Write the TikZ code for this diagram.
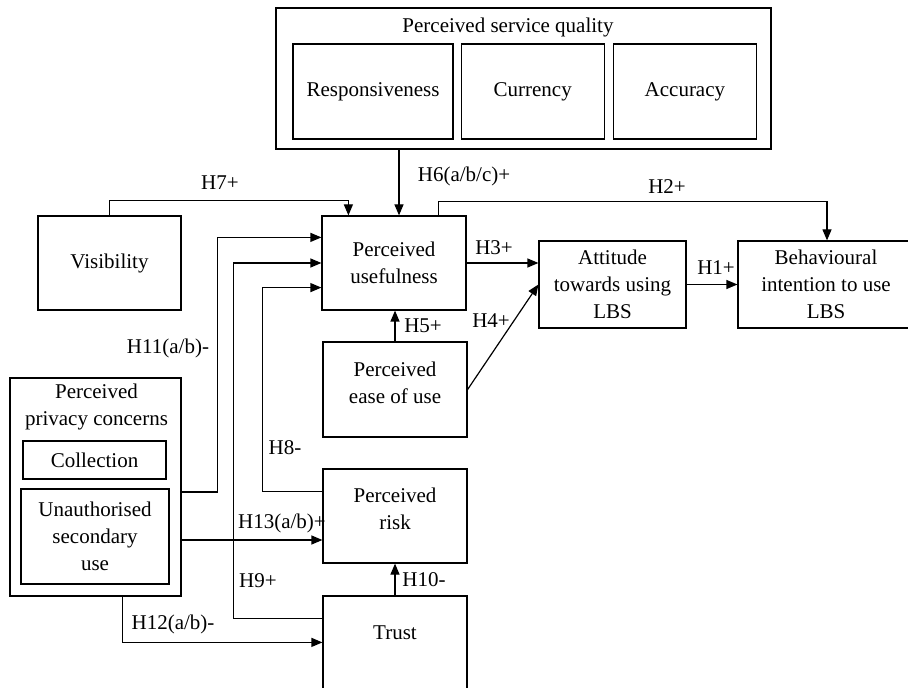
\documentclass[tikz,border=0pt]{standalone}
\usepackage{fontspec}
\setmainfont{Liberation Serif}
\usetikzlibrary{positioning,arrows.meta}

\begin{document}
\begin{tikzpicture}[
    x=0.5pt, y=-0.5pt,
    font=\fontsize{10.5}{13.5}\selectfont,
    construct/.style={rectangle, draw, line width=0.6pt, align=center, inner sep=1pt},
    group/.style={rectangle, draw, line width=0.6pt, inner sep=0pt},
    hyp/.style={inner sep=0pt},
    arrow/.style={-{Triangle[length=5.5pt, width=4.5pt]}, line width=0.6pt}
]
    \useasboundingbox (0,0) rectangle (908,688);

    % Perceived service quality
    \node[group, minimum width=247.5pt, minimum height=70.5pt] (psq) at (523.5,78.5) {};
    \node (psqtitle) at (508,27) {Perceived service quality};
    \node[construct, minimum width=80pt, minimum height=47.5pt] (resp) at (373,91.5) {Responsiveness};
    \node[construct, minimum width=71.5pt, minimum height=47.5pt, right=3.5pt of resp] (curr) {Currency};
    \node[construct, minimum width=71.5pt, minimum height=47.5pt, right=4pt of curr] (acc) {Accuracy};

    % Constructs
    \node[construct, minimum width=71.5pt, minimum height=47pt] (vis) at (109.5,263) {Visibility};
    \node[construct, minimum width=72pt, minimum height=47pt] (pu) at (394,263) {Perceived\\usefulness};
    \node[construct, minimum width=73.5pt, minimum height=43.5pt] (att) at (612.5,284.5) {Attitude\\towards using\\LBS};
    \node[construct, minimum width=88pt, minimum height=43.5pt] (bi) at (826,284.5) {Behavioural\\intention to use\\LBS};
    \node[construct, minimum width=72pt, minimum height=47.5pt, text depth=7pt] (peou) at (395,389.5) {Perceived\\ease of use};
    \node[construct, minimum width=72pt, minimum height=47pt, text depth=7pt] (risk) at (395,516) {Perceived\\risk};
    \node[construct, minimum width=72pt, minimum height=48pt, text depth=11pt] (trust) at (395,644) {Trust};

    % Perceived privacy concerns
    \node[group, minimum width=85.5pt, minimum height=109pt] (priv) at (95.5,487) {};
    \node[align=center] (privtitle) at (96.5,406.5) {Perceived\\privacy concerns};
    \node[construct, minimum width=71.5pt, minimum height=19pt] (coll) at (94.5,460) {Collection};
    \node[construct, minimum width=74pt, minimum height=47.5pt] (unauth) at (95,536.5) {Unauthorised\\secondary\\use};

    % Hypotheses
    \node[hyp] (h1) at (716,268) {H1+};
    \node[hyp] (h2) at (667,187) {H2+};
    \node[hyp] (h3) at (494,248) {H3+};
    \node[hyp] (h4) at (491,321) {H4+};
    \node[hyp] (h5) at (423,326) {H5+};
    \node[hyp] (h6) at (464,176) {H6(a/b/c)+};
    \node[hyp] (h7) at (220,183) {H7+};
    \node[hyp] (h8) at (285,448) {H8-};
    \node[hyp] (h9) at (258,581) {H9+};
    \node[hyp] (h10) at (424,580) {H10-};
    \node[hyp] (h11) at (168,348) {H11(a/b)-};
    \node[hyp] (h12) at (173,624) {H12(a/b)-};
    \node[hyp] (h13) at (282,523) {H13(a/b)+};

    % Ends
    \coordinate (h2end) at ([xshift=0.5pt]bi.north);
    \coordinate (h2start) at ([xshift=-14pt]pu.north east);
    \coordinate (h6end) at ([xshift=2.5pt]pu.north);
    \coordinate (h7end) at ([xshift=13.5pt]pu.north west);
    \coordinate (h8end) at ([yshift=11.5pt]pu.south west);
    \coordinate (h11end) at ([yshift=-11pt]pu.north west);
    \coordinate (h12end) at ([yshift=-23.5pt]trust.north west);
    \coordinate (h13end) at ([yshift=-12pt]risk.west);

    % Arrows
    \draw[arrow] (att.east) -- (bi.west);
    \draw[arrow] (h2start) -- ++(0,-14) -| (h2end);
    \draw[arrow] (pu.east) -- (pu.east -| att.west);
    \draw[arrow] (peou.east) -- (att.west);
    \draw[arrow] (peou.north) -- (peou.north |- pu.south);
    \draw[arrow] (h6end |- psq.south) -- (h6end);
    \draw[arrow] (vis.north) -- ++(0,-15) -| (h7end);
    \draw[arrow] ([yshift=-11.5pt]risk.north west) -- ++(-60,0) |- (h8end);
    \draw[arrow] ([yshift=-11.5pt]trust.north west) -- ++(-89,0) |- (pu.west);
    \draw[arrow] (trust.north) -- (risk.south);
    \draw[arrow] ([yshift=-2.5pt]priv.east) -- ++(36,0) |- (h11end);
    \draw[arrow] ([xshift=56.5pt]priv.south west) |- (h12end);
    \draw[arrow] (h13end -| priv.east) -- (h13end);
\end{tikzpicture}
\end{document}
